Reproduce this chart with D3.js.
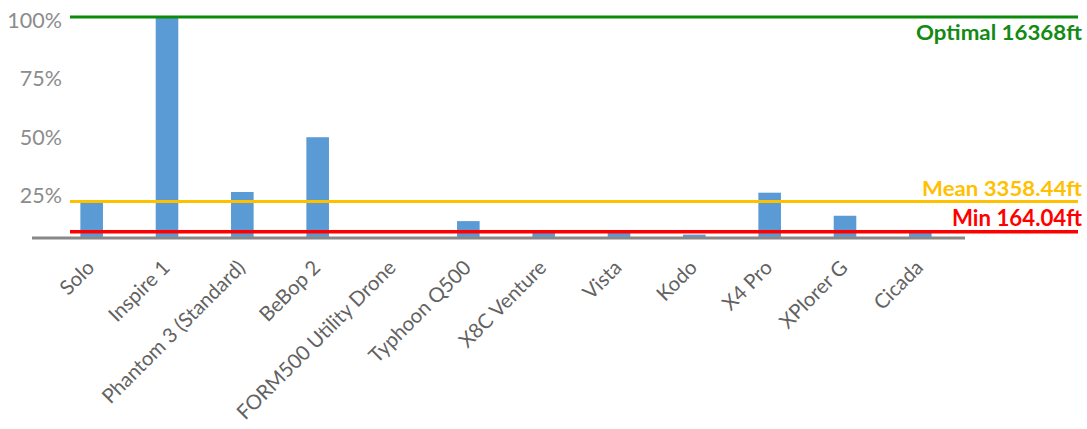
<!DOCTYPE html>
<html>
<head>
<meta charset="utf-8">
<script src="https://cdn.jsdelivr.net/npm/d3@7"></script>
<style>
  html, body { margin: 0; padding: 0; background: #fff; }
  svg { display: block; font-family: Lato, "Open Sans", sans-serif; }
</style>
</head>
<body>
<svg id="chart" width="1087" height="429"></svg>
<script>
// ---- data (percent of optimal range) ----
const categories = ["Solo", "Inspire 1", "Phantom 3 (Standard)", "BeBop 2", "FORM500 Utility Drone",
  "Typhoon Q500", "X8C Venture", "Vista", "Kodo", "X4 Pro", "XPlorer G", "Cicada"];
const rangePct = [20.6, 100, 24.9, 48.4, 0, 12.4, 7.7, 7.7, 6.6, 24.6, 14.7, 7.5];
const yTicks = [25, 50, 75, 100];
const axisBaseValue = 5.6;
const refNames = ["Optimal 16368ft", "Mean 3358.44ft", "Min 164.04ft"];
const refValues = [100, 20.8, 7.8];
const refColors = ["#0b8a0b", "#ffc000", "#ff0000"];
const refTextColors = ["#138a13", "#ffc000", "#ff0000"];

// ---- layout ----
const svg = d3.select("#chart");
const x = d3.scaleBand().domain(categories).range([54, 958]).paddingInner(0.7).paddingOuter(0.35);
const y = d3.scaleLinear().domain([0, 100]).range([250, 17]);

// y tick labels
svg.append("g").selectAll("text").data(yTicks).join("text")
  .attr("x", 62).attr("y", d => y(d) + 3)
  .attr("text-anchor", "end").attr("dominant-baseline", "central")
  .attr("fill", "#8c8c8c").attr("font-size", 21.5)
  .text(d => d + "%");

// bars
svg.append("g").selectAll("rect").data(categories).join("rect")
  .attr("x", d => x(d))
  .attr("width", x.bandwidth())
  .attr("y", (d, i) => y(Math.max(rangePct[i], axisBaseValue)))
  .attr("height", (d, i) => Math.max(0, y(axisBaseValue) - y(Math.max(rangePct[i], axisBaseValue))))
  .attr("fill", "#5b9bd5");

// x axis baseline
svg.append("line")
  .attr("x1", 32).attr("x2", 965)
  .attr("y1", y(axisBaseValue) + 1).attr("y2", y(axisBaseValue) + 1)
  .attr("stroke", "#888888").attr("stroke-width", 3);

// x labels
svg.append("g").selectAll("text").data(categories).join("text")
  .attr("transform", d => `translate(${x(d) + x.bandwidth() / 2 + 4},${y(axisBaseValue) + 32}) rotate(-45)`)
  .attr("text-anchor", "end")
  .attr("fill", "#626262").attr("font-size", 20.3)
  .text(d => d);

// reference lines
const refG = svg.append("g");
refG.selectAll("line").data(refValues).join("line")
  .attr("x1", 70).attr("x2", 1078)
  .attr("y1", d => y(d)).attr("y2", d => y(d))
  .attr("stroke", (d, i) => refColors[i])
  .attr("stroke-width", (d, i) => i === 2 ? 3.5 : 3);

const labelOffsets = [23, -6, -6];
const labelWidths = [166, 160, 130];
const labelSizes = [20, 21, 22];
refG.selectAll("text").data(refValues).join("text")
  .attr("x", 1082)
  .attr("y", (d, i) => y(d) + labelOffsets[i])
  .attr("text-anchor", "end")
  .attr("font-weight", "bold")
  .attr("font-size", (d, i) => labelSizes[i])
  .attr("fill", (d, i) => refTextColors[i])
  .attr("textLength", (d, i) => labelWidths[i])
  .attr("lengthAdjust", "spacingAndGlyphs")
  .text((d, i) => refNames[i]);
</script>
</body>
</html>
